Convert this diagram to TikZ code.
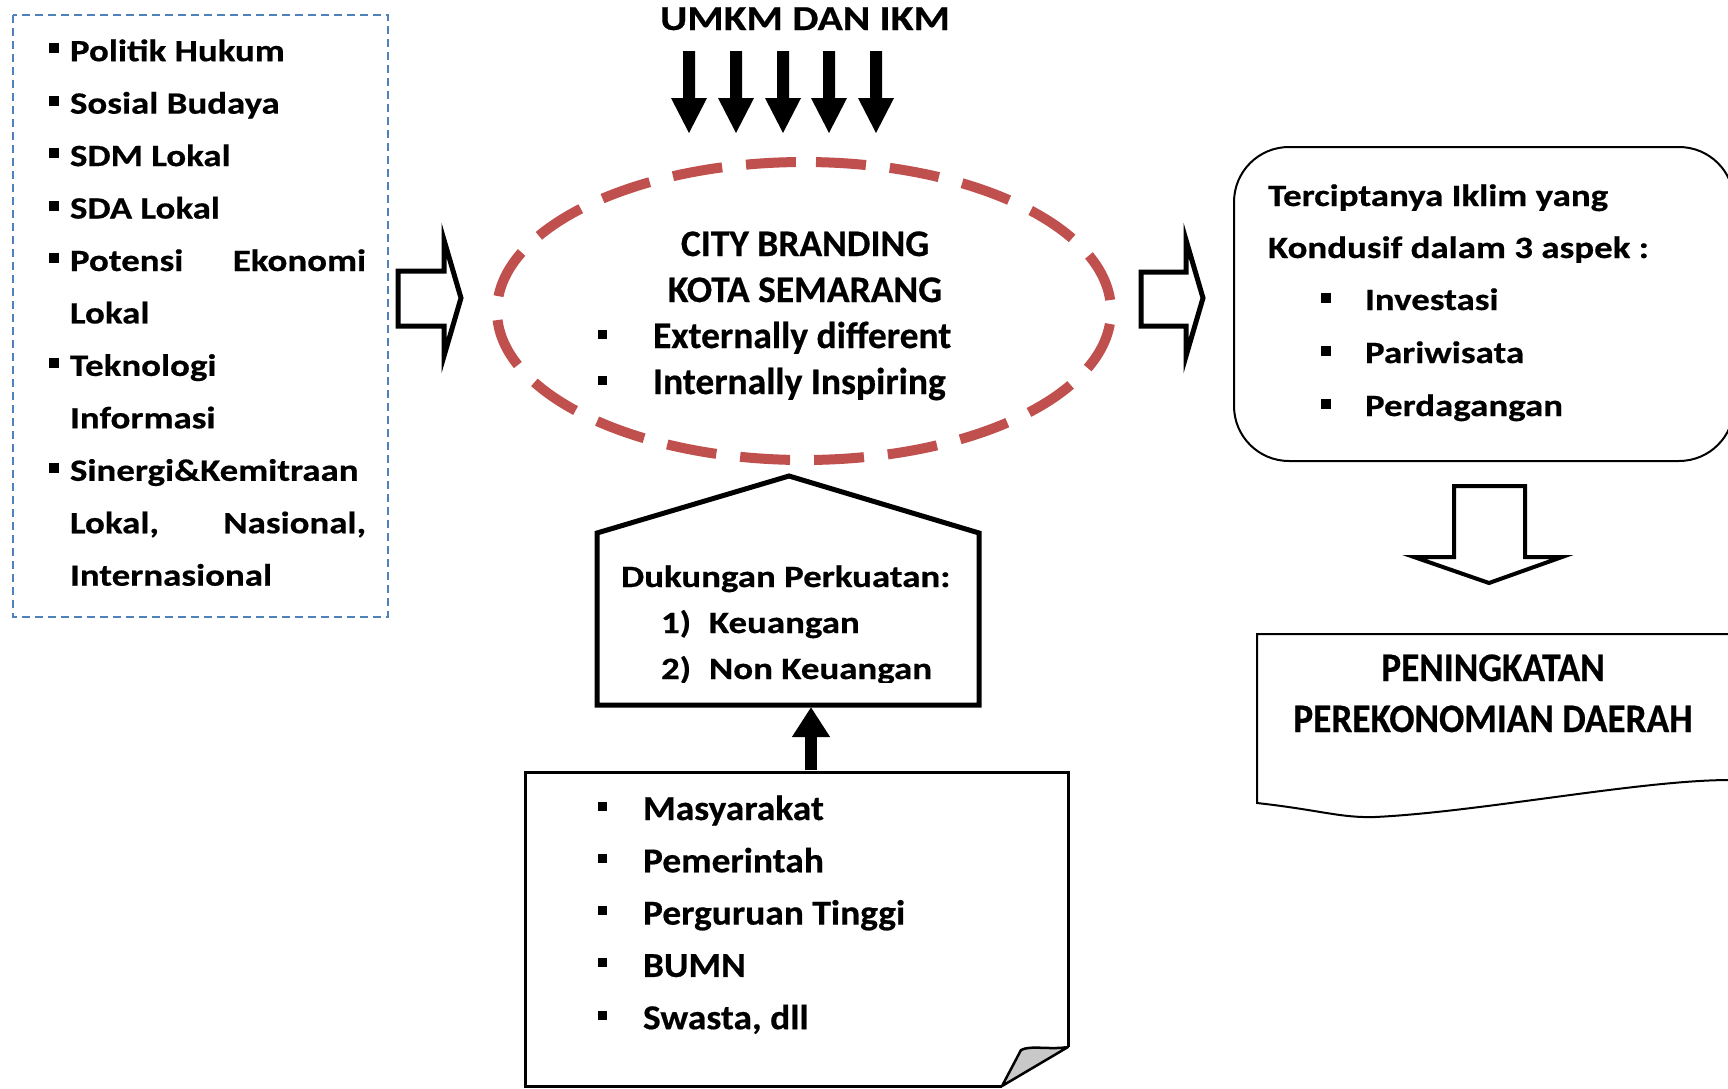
\documentclass[tikz,border=0pt]{standalone}
\usepackage{fontspec}
\setmainfont{Carlito}[BoldFeatures={FakeBold=0.5}]
\newfontfamily\fwide{Carlito}[FakeStretch=1.19, BoldFeatures={FakeBold=0.5}]
\newfontfamily\fwideb{Carlito}[FakeStretch=1.07, BoldFeatures={FakeBold=0.5}]
\newfontfamily\fnarrow{Carlito}[FakeStretch=0.92, BoldFeatures={FakeBold=0.5}]
\usetikzlibrary{arrows.meta}
\definecolor{brandred}{HTML}{C0504D}
\definecolor{dashblue}{HTML}{4F81BD}
\definecolor{foldgray}{HTML}{C8C8C8}
\begin{document}
\begin{tikzpicture}[x=1pt,y=-1pt,
  txt/.style={anchor=base west, inner sep=0pt, outer sep=0pt},
  ltxt/.style={txt, font=\fwide\bfseries\fontsize{31}{36}\selectfont},
  btxt/.style={txt, font=\fwideb\bfseries\fontsize{35}{40}\selectfont},
  ctxt/.style={txt, font=\bfseries\fontsize{37.5}{44}\selectfont},
  ptxt/.style={anchor=base, inner sep=0pt, font=\fnarrow\bfseries\fontsize{40.5}{48}\selectfont},
  bsq/.style={rectangle, fill=black, inner sep=0pt, minimum size=#1},
  bsq/.default=10pt,
  blockarrow/.style={draw=black, fill=white, line join=miter, miter limit=12},
  solidarrow/.style={fill=black, draw=none}
]
\useasboundingbox (0,0) rectangle (1728,1088);

% ---------- left dashed box ----------
\draw[dashblue, line width=2, dash pattern=on 8 off 5] (13,15) rectangle (388,617);
\foreach \i/\t/\b in {0/{Politik Hukum}/1, 1/{Sosial Budaya}/1, 2/{SDM Lokal}/1, 3/{SDA Lokal}/1,
  5/{Lokal}/0, 6/{Teknologi}/1, 7/{Informasi}/0, 8/{Sinergi\&Kemitraan}/1, 10/{Internasional}/0}{
  \node[ltxt] (L\i) at (70,61.2+52.45*\i) {\t};
  \ifnum\b=1 \node[bsq] (LB\i) at (54,48.2+52.45*\i) {};\fi
}
\node[ltxt] (L4) at (70,61.2+52.45*4) {\hbox to 296pt{Potensi\hfill Ekonomi}};
\node[bsq] (LB4) at (54,48.2+52.45*4) {};
\node[ltxt] (L9) at (70,61.2+52.45*9) {\hbox to 296pt{Lokal,\hfill Nasional,}};

% ---------- block arrows left/right of ellipse ----------
\draw[blockarrow, line width=5] (398,271) -- (444,271) -- (444,240) -- (461,298) -- (444,356) -- (444,326) -- (398,326) -- cycle;
\draw[blockarrow, line width=5] (1141,272) -- (1186,272) -- (1186,240) -- (1203,298) -- (1186,356) -- (1186,326) -- (1141,326) -- cycle;

% ---------- UMKM and arrows ----------
\node[anchor=base, inner sep=0pt, font=\fwide\bfseries\fontsize{35}{40}\selectfont] (umkm) at (805,30) {UMKM DAN IKM};
\foreach \c [count=\k] in {689,736,783,829,876}{
  \coordinate (ua\k) at (\c,51);
  \fill[solidarrow] (ua\k) ++(-6,0) -- ++(12,0) -- ++(0,47) -- ++(12,0) -- ++(-18,35) -- ++(-18,-35) -- ++(12,0) -- cycle;
}

% ---------- ellipse ----------
\draw[brandred, line width=10, dash pattern=on 50 off 24, dash phase=62] (804,162) arc[start angle=270, end angle=630, x radius=307, y radius=149];
\node[anchor=base, inner sep=0pt, font=\bfseries\fontsize{37.5}{44}\selectfont] (city1) at (805,256) {CITY BRANDING};
\node[anchor=base, inner sep=0pt, font=\bfseries\fontsize{37.5}{44}\selectfont] (city2) at (805,302) {KOTA SEMARANG};
\node[bsq=9pt] (cb1) at (602,334) {};
\node[ctxt] (city3) at (653,348) {Externally different};
\node[bsq=9pt] (cb2) at (602,380) {};
\node[ctxt] (city4) at (653,394) {Internally Inspiring};

% ---------- right rounded box ----------
\node[draw, line width=2, rounded corners=55, minimum width=500pt, minimum height=314pt, inner sep=0pt] (climate) at (1484,304) {};
\node[ltxt] (R1) at (1268,206) {Terciptanya Iklim yang};
\node[ltxt] (R2) at (1268,258) {Kondusif dalam 3 aspek :};
\node[bsq] (RB3) at (1326,298) {};
\node[ltxt] (R3) at (1365,310) {Investasi};
\node[bsq] (RB4) at (1326,351) {};
\node[ltxt] (R4) at (1365,363) {Pariwisata};
\node[bsq] (RB5) at (1326,404) {};
\node[ltxt] (R5) at (1365,416) {Perdagangan};

% ---------- down block arrow ----------
\draw[blockarrow, line width=4] (1454,486) -- (1525,486) -- (1525,557) -- (1562,557) -- (1489,583) -- (1414,557) -- (1454,557) -- cycle;

% ---------- document shape ----------
\draw[line width=2] (1730,634) -- (1257,634) -- (1257,803) .. controls (1320,810) and (1340,818) .. (1375,817) .. controls (1480,812) and (1640,780) .. (1730,780);
\node[ptxt] (P1) at (1493,681) {PENINGKATAN};
\node[ptxt] (P2) at (1493,732) {PEREKONOMIAN DAERAH};

% ---------- pentagon ----------
\draw[line width=5, line join=miter] (597,705) -- (597,533) -- (789,476) -- (979,533) -- (979,705) -- cycle;
\node[ltxt] (D1) at (621,587) {Dukungan Perkuatan:};
\node[ltxt] (D2) at (661,633) {1)};
\node[ltxt] (D3) at (709,633) {Keuangan};
\begin{scope}
  \clip (600,640) rectangle (976,682);
  \node[ltxt] (D4) at (661,679) {2)};
  \node[ltxt] (D5) at (709,679) {Non Keuangan};
\end{scope}

% ---------- up arrow ----------
\coordinate (upS) at (811,770);
\coordinate (upE) at (811,707);
\draw[line width=12, -{Triangle[width=36pt,length=30pt]}] (upS) -- (upE);

% ---------- note box ----------
\draw[line width=3, line join=miter] (1002,1086) -- (525,1086) -- (525,772) -- (1068,772) -- (1068,1047);
\filldraw[fill=foldgray, line width=2.5, line join=round] (1068,1047) .. controls (1050,1050) and (1030,1045) .. (1021,1050) -- (1002,1086) -- cycle;
\foreach \i/\t in {0/Masyarakat,1/Pemerintah,2/{Perguruan Tinggi},3/BUMN,4/{Swasta, dll}}{
  \node[bsq=9pt] (NB\i) at (602.5,806+52.3*\i) {};
  \node[btxt] (N\i) at (643,820+52.3*\i) {\t};
}
\end{tikzpicture}
\end{document}
